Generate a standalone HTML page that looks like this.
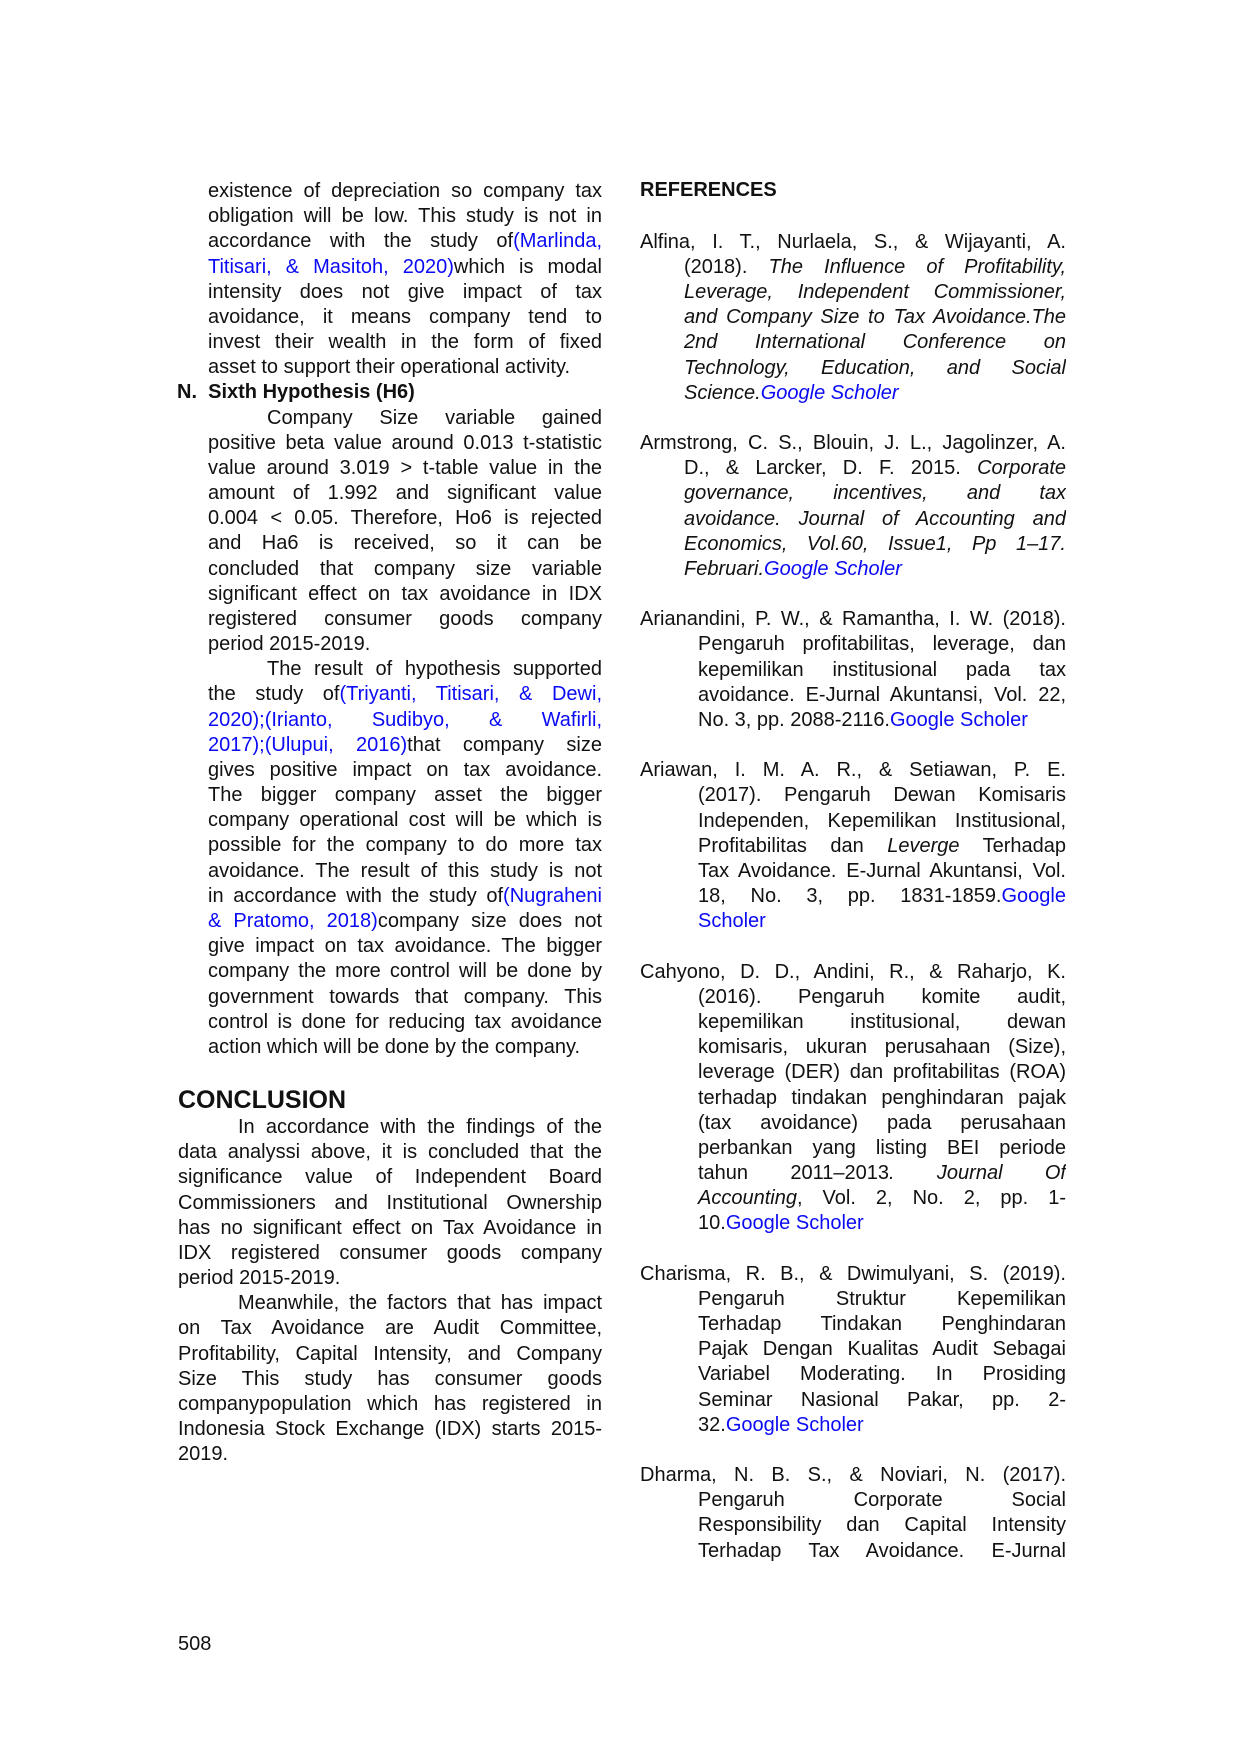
<!DOCTYPE html>
<html><head><meta charset="utf-8">
<style>
html,body{margin:0;padding:0;background:#fff;}
body{width:1240px;height:1754px;position:relative;overflow:hidden;font-family:"Liberation Sans",Arial,sans-serif;font-size:20px;color:#111;}
.b{position:absolute;}
.b div{height:25.18px;line-height:25.18px;overflow:hidden;white-space:normal;}
.j{text-align:justify;text-align-last:justify;}
.u{color:#0a0af5;}
i{font-style:italic;}
.h{font-weight:bold;}
</style></head><body>

<div class="b" style="left:208px;top:179px;width:394px;">
<div class="j">existence of depreciation so company tax</div>
<div class="j">obligation will be low. This study is not in</div>
<div class="j">accordance with the study of<span class="u">(Marlinda,</span></div>
<div class="j"><span class="u">Titisari, &amp; Masitoh, 2020)</span>which is modal</div>
<div class="j">intensity does not give impact of tax</div>
<div class="j">avoidance, it means company tend to</div>
<div class="j">invest their wealth in the form of fixed</div>
<div>asset to support their operational activity.</div>
<div class="h" style="margin-left:-31px;width:420px;">N.&nbsp; Sixth Hypothesis (H6)</div>
<div class="j" style="padding-left:59px;">Company Size variable gained</div>
<div class="j">positive beta value around 0.013 t-statistic</div>
<div class="j">value around 3.019 &gt; t-table value in the</div>
<div class="j">amount of 1.992 and significant value</div>
<div class="j">0.004 &lt; 0.05. Therefore, Ho6 is rejected</div>
<div class="j">and Ha6 is received, so it can be</div>
<div class="j">concluded that company size variable</div>
<div class="j">significant effect on tax avoidance in IDX</div>
<div class="j">registered consumer goods company</div>
<div>period 2015-2019.</div>
<div class="j" style="padding-left:59px;">The result of hypothesis supported</div>
<div class="j">the study of<span class="u">(Triyanti, Titisari, &amp; Dewi,</span></div>
<div class="j"><span class="u">2020);(Irianto, Sudibyo, &amp; Wafirli,</span></div>
<div class="j"><span class="u">2017);(Ulupui, 2016)</span>that company size</div>
<div class="j">gives positive impact on tax avoidance.</div>
<div class="j">The bigger company asset the bigger</div>
<div class="j">company operational cost will be which is</div>
<div class="j">possible for the company to do more tax</div>
<div class="j">avoidance. The result of this study is not</div>
<div class="j">in accordance with the study of<span class="u">(Nugraheni</span></div>
<div class="j"><span class="u">&amp; Pratomo, 2018)</span>company size does not</div>
<div class="j">give impact on tax avoidance. The bigger</div>
<div class="j">company the more control will be done by</div>
<div class="j">government towards that company. This</div>
<div class="j">control is done for reducing tax avoidance</div>
<div>action which will be done by the company.</div>
</div>

<div class="b h" style="left:178px;top:1084px;font-size:25px;line-height:32px;">CONCLUSION</div>

<div class="b" style="left:178px;top:1115px;width:424px;">
<div class="j" style="padding-left:60px;">In accordance with the findings of the</div>
<div class="j">data analyssi above, it is concluded that the</div>
<div class="j">significance value of Independent Board</div>
<div class="j">Commissioners and Institutional Ownership</div>
<div class="j">has no significant effect on Tax Avoidance in</div>
<div class="j">IDX registered consumer goods company</div>
<div>period 2015-2019.</div>
<div class="j" style="padding-left:60px;">Meanwhile, the factors that has impact</div>
<div class="j">on Tax Avoidance are Audit Committee,</div>
<div class="j">Profitability, Capital Intensity, and Company</div>
<div class="j">Size This study has consumer goods</div>
<div class="j">companypopulation which has registered in</div>
<div class="j">Indonesia Stock Exchange (IDX) starts 2015-</div>
<div>2019.</div>
</div>

<div class="b" style="left:178px;top:1633px;">508</div>

<!-- right column -->
<div class="b h" style="left:640px;top:179px;">REFERENCES</div>

<div class="b" style="left:640px;top:229.7px;width:426px;">
<div class="j">Alfina, I. T., Nurlaela, S., &amp; Wijayanti, A.</div>
<div class="j" style="padding-left:44px;">(2018). <i>The Influence of Profitability,</i></div>
<div class="j" style="padding-left:44px;"><i>Leverage, Independent Commissioner,</i></div>
<div class="j" style="padding-left:44px;"><i>and Company Size to Tax Avoidance.The</i></div>
<div class="j" style="padding-left:44px;"><i>2nd International Conference on</i></div>
<div class="j" style="padding-left:44px;"><i>Technology, Education, and Social</i></div>
<div style="padding-left:44px;"><i>Science.</i><i class="u">Google Scholer</i></div>
<div></div>
<div class="j">Armstrong, C. S., Blouin, J. L., Jagolinzer, A.</div>
<div class="j" style="padding-left:44px;">D., &amp; Larcker, D. F. 2015. <i>Corporate</i></div>
<div class="j" style="padding-left:44px;"><i>governance, incentives, and tax</i></div>
<div class="j" style="padding-left:44px;"><i>avoidance. Journal of Accounting and</i></div>
<div class="j" style="padding-left:44px;"><i>Economics, Vol.60, Issue1, Pp 1–17.</i></div>
<div style="padding-left:44px;"><i>Februari.</i><i class="u">Google Scholer</i></div>
<div></div>
<div class="j">Arianandini, P. W., &amp; Ramantha, I. W. (2018).</div>
<div class="j" style="padding-left:58px;">Pengaruh profitabilitas, leverage, dan</div>
<div class="j" style="padding-left:58px;">kepemilikan institusional pada tax</div>
<div class="j" style="padding-left:58px;">avoidance. E-Jurnal Akuntansi, Vol. 22,</div>
<div style="padding-left:58px;">No. 3, pp. 2088-2116.<span class="u">Google Scholer</span></div>
<div></div>
<div class="j">Ariawan, I. M. A. R., &amp; Setiawan, P. E.</div>
<div class="j" style="padding-left:58px;">(2017). Pengaruh Dewan Komisaris</div>
<div class="j" style="padding-left:58px;">Independen, Kepemilikan Institusional,</div>
<div class="j" style="padding-left:58px;">Profitabilitas dan <i>Leverge</i> Terhadap</div>
<div class="j" style="padding-left:58px;">Tax Avoidance. E-Jurnal Akuntansi, Vol.</div>
<div class="j" style="padding-left:58px;">18, No. 3, pp. 1831-1859.<span class="u">Google</span></div>
<div style="padding-left:58px;"><span class="u">Scholer</span></div>
<div></div>
<div class="j">Cahyono, D. D., Andini, R., &amp; Raharjo, K.</div>
<div class="j" style="padding-left:58px;">(2016). Pengaruh komite audit,</div>
<div class="j" style="padding-left:58px;">kepemilikan institusional, dewan</div>
<div class="j" style="padding-left:58px;">komisaris, ukuran perusahaan (Size),</div>
<div class="j" style="padding-left:58px;">leverage (DER) dan profitabilitas (ROA)</div>
<div class="j" style="padding-left:58px;">terhadap tindakan penghindaran pajak</div>
<div class="j" style="padding-left:58px;">(tax avoidance) pada perusahaan</div>
<div class="j" style="padding-left:58px;">perbankan yang listing BEI periode</div>
<div class="j" style="padding-left:58px;">tahun 2011–2013<i>. Journal Of</i></div>
<div class="j" style="padding-left:58px;"><i>Accounting</i>, Vol. 2, No. 2, pp. 1-</div>
<div style="padding-left:58px;">10.<span class="u">Google Scholer</span></div>
<div></div>
<div class="j">Charisma, R. B., &amp; Dwimulyani, S. (2019).</div>
<div class="j" style="padding-left:58px;">Pengaruh Struktur Kepemilikan</div>
<div class="j" style="padding-left:58px;">Terhadap Tindakan Penghindaran</div>
<div class="j" style="padding-left:58px;">Pajak Dengan Kualitas Audit Sebagai</div>
<div class="j" style="padding-left:58px;">Variabel Moderating. In Prosiding</div>
<div class="j" style="padding-left:58px;">Seminar Nasional Pakar, pp. 2-</div>
<div style="padding-left:58px;">32.<span class="u">Google Scholer</span></div>
<div></div>
<div class="j">Dharma, N. B. S., &amp; Noviari, N. (2017).</div>
<div class="j" style="padding-left:58px;">Pengaruh Corporate Social</div>
<div class="j" style="padding-left:58px;">Responsibility dan Capital Intensity</div>
<div class="j" style="padding-left:58px;">Terhadap Tax Avoidance. E-Jurnal</div>
</div>

</body></html>
